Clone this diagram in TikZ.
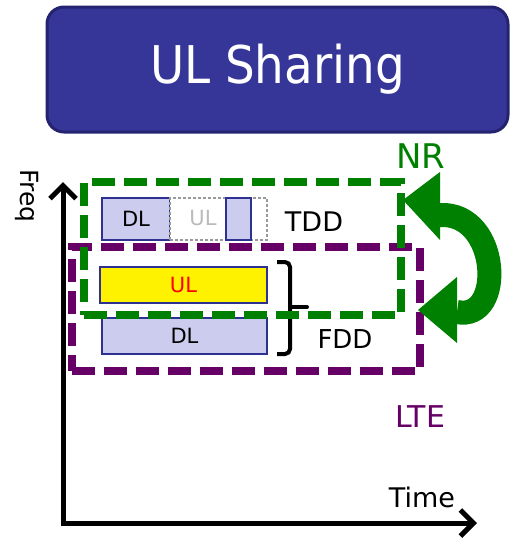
\documentclass[tikz,border=0pt]{standalone}
\usepackage{fontspec}
\setmainfont{DejaVu Sans}
\newfontfamily\titlefont{DejaVu Sans Condensed}
\usetikzlibrary{arrows.meta}
\definecolor{titlefill}{HTML}{363699}
\definecolor{titledraw}{HTML}{23236F}
\definecolor{nrgreen}{HTML}{008000}
\definecolor{ltepurple}{HTML}{660066}
\definecolor{boxfill}{HTML}{CCCCEE}
\definecolor{boxdraw}{HTML}{2E3192}
\definecolor{ghostline}{HTML}{999999}
\definecolor{ghosttext}{HTML}{BBBBBB}
\begin{document}
\begin{tikzpicture}[x=1pt,y=-1pt,
  fs/.style={font=\fontsize{#1}{#1}\selectfont},
  lbl/.style={inner sep=0pt, outer sep=0pt},
  box/.style={draw=boxdraw, line width=1.5pt, fill=boxfill, inner sep=0pt, outer sep=0pt, anchor=north west},
  ghost/.style={draw=ghostline, line width=1.2pt, dash pattern=on 3pt off 2pt, fill=white, inner sep=0pt, outer sep=0pt, anchor=north west},
  frame/.style={line width=7.5pt, dash pattern=on 23pt off 9pt, inner sep=0pt, outer sep=0pt, anchor=north west},
  axis/.style={line width=5pt, {Straight Barb[length=13pt,width=26pt]}-{Straight Barb[length=13pt,width=26pt]}},
  ]
\useasboundingbox (0,0) rectangle (510,541);

% title
\node[draw=titledraw, line width=3pt, fill=titlefill, rounded corners=17pt,
      minimum width=461pt, minimum height=125pt, inner sep=0pt,
      text=white, font=\titlefont\fontsize{52}{52}\selectfont] (title) at (277.5,69.5) {UL Sharing};

% axes
\coordinate (ytip) at (63,182);
\coordinate (origin) at (63,523);
\coordinate (xtip) at (477,523);
\draw[axis] (ytip) -- (origin) -- (xtip);
\node[lbl, fs=25, rotate=-90] (freq) at (27,196) {Freq};
\node[lbl, fs=27] (time) at (422,497) {Time};

% TDD row
\node[box, minimum width=68pt, minimum height=42pt] (tdddl) at (102,198) {};
\node[ghost, minimum width=97pt, minimum height=42pt] (tddul) at (170,198) {};
\node[box, minimum width=25pt, minimum height=42pt] (tdddl2) at (226,198) {};
\node[lbl, fs=21] (tdddltxt) at (136,219) {DL};
\node[lbl, fs=21, text=ghosttext] (tddultxt) at (203,218) {UL};
\node[lbl, fs=27] (tdd) at (314,222) {TDD};

% FDD rows
\node[box, fill=yellow, minimum width=167pt, minimum height=36pt, text=red, fs=21] (fddul) at (100,267) {UL};
\node[box, minimum width=165pt, minimum height=36pt, fs=21] (fdddl) at (102,318) {DL};
\node[lbl, fs=26] (fdd) at (345,339) {FDD};

% bracket
\coordinate (brtop) at (277,262);
\coordinate (brmid) at (290,307);
\coordinate (brtick) at (307,307);
\coordinate (brbot) at (277,354);
\draw[line width=4pt, rounded corners=5pt] (brtop) -| (brmid) |- (brbot);
\draw[line width=4pt, line cap=round] (brmid) -- (brtick);

% frames
\node[frame, draw=ltepurple, minimum width=348pt, minimum height=124pt] (lte) at (72,247) {};
\node[frame, draw=nrgreen, minimum width=317pt, minimum height=133pt] (nr) at (84,182) {};
\node[lbl, fs=30, text=ltepurple] (ltetxt) at (420,417) {LTE};
\node[lbl, fs=34, text=nrgreen] (nrtxt) at (421,156) {NR};

% curved arrow
\coordinate (nrtop) at (440,215);
\coordinate (nrbot) at (457,312);
\draw[nrgreen, line width=24pt] (nrtop) .. controls (500,212) and (505,322) .. (nrbot);
\fill[nrgreen] (403,200) -- (440,172) -- (440,240) -- cycle;
\fill[nrgreen] (418,310) -- (457,277) -- (457,343) -- cycle;
\end{tikzpicture}
\end{document}
